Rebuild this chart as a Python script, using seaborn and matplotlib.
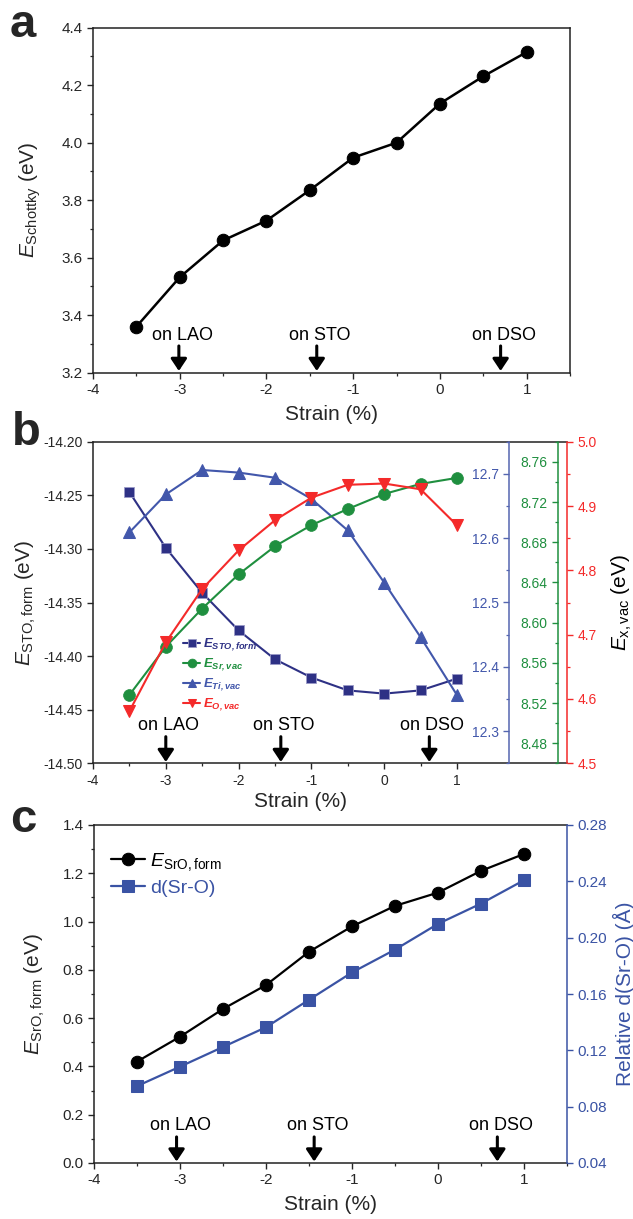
import matplotlib
matplotlib.use('Agg')
import matplotlib.pyplot as plt
import seaborn as sns
from matplotlib.ticker import MultipleLocator, FixedLocator, FormatStrFormatter

# ---------------- data ----------------
strain = [-3.5, -3.0, -2.5, -2.0, -1.5, -1.0, -0.5, 0.0, 0.5, 1.0]
e_schottky = [3.360, 3.532, 3.660, 3.729, 3.835, 3.948, 4.000, 4.136, 4.231, 4.315]
e_sto_form = [-14.247, -14.299, -14.341, -14.376, -14.403, -14.420, -14.432, -14.435, -14.432, -14.421]
e_sr_vac = [8.528, 8.576, 8.614, 8.648, 8.676, 8.697, 8.713, 8.728, 8.738, 8.744]
e_ti_vac = [12.609, 12.668, 12.706, 12.702, 12.694, 12.661, 12.612, 12.531, 12.446, 12.356]
e_o_vac = [4.581, 4.688, 4.771, 4.831, 4.878, 4.913, 4.933, 4.935, 4.926, 4.870]
e_sro_form = [0.420, 0.523, 0.638, 0.737, 0.875, 0.980, 1.065, 1.120, 1.210, 1.280]
d_sro = [0.0946, 0.1084, 0.1224, 0.1364, 0.1559, 0.1753, 0.1915, 0.2098, 0.2242, 0.2408]
substrates = ["on LAO", "on STO", "on DSO"]
sub_strain_a = [-3.01, -1.42, 0.70]
sub_strain_b = [-3.00, -1.42, 0.62]
sub_strain_c = [-3.04, -1.44, 0.69]
x_ticks = [-4, -3, -2, -1, 0, 1]

# ---------------- style ----------------
sns.set_style('ticks')
plt.rcParams['font.family'] = ['Liberation Sans', 'DejaVu Sans']
plt.rcParams.update({
    'mathtext.fontset': 'custom',
    'mathtext.rm': 'Liberation Sans',
    'mathtext.it': 'Liberation Sans:italic',
    'mathtext.bf': 'Liberation Sans:bold',
    'mathtext.sf': 'Liberation Sans:bold:italic',
    'axes.unicode_minus': False,
    'axes.linewidth': 1.1,
    'axes.edgecolor': '#222222',
    'xtick.direction': 'out',
    'ytick.direction': 'out',
    'xtick.major.size': 4, 'ytick.major.size': 4,
    'xtick.minor.size': 2.5, 'ytick.minor.size': 2.5,
    'xtick.major.width': 1.0, 'ytick.major.width': 1.0,
    'xtick.minor.width': 0.9, 'ytick.minor.width': 0.9,
})

navy = '#2e3185'
green = '#1f8f3f'
blue = '#4257ab'
red = '#f42a2a'
cblue = '#3a53a4'

W, H = 633, 1219
fig = plt.figure(figsize=(W / 100, H / 100), dpi=100)


def box(l, r, t, b):
    return [l / W, 1 - b / H, (r - l) / W, (b - t) / H]


def add_substrates(ax, xs, ytext, ytop, ybot, fs=13):
    for name, x in zip(substrates, xs):
        ax.text(x + 0.04, ytext, name, ha='center', va='center', fontsize=fs, color='black')
        ax.annotate('', xy=(x, ybot), xytext=(x, ytop),
                    arrowprops=dict(arrowstyle='-|>,head_length=0.6,head_width=0.4',
                                    color='black', lw=2.2, mutation_scale=12,
                                    shrinkA=0, shrinkB=0))


# ---------------- panel a ----------------
axA = fig.add_axes(box(93, 570, 27.7, 372.7))
sns.lineplot(x=strain, y=e_schottky, ax=axA, color='black', marker='o',
             markersize=9, linewidth=1.8, markeredgecolor='black')
axA.set_xlim(-4, 1.5)
axA.set_ylim(3.2, 4.4)
axA.xaxis.set_major_locator(FixedLocator(x_ticks))
axA.xaxis.set_minor_locator(MultipleLocator(0.5))
axA.yaxis.set_major_locator(MultipleLocator(0.2))
axA.yaxis.set_minor_locator(MultipleLocator(0.1))
axA.yaxis.set_major_formatter(FormatStrFormatter('%.1f'))
axA.xaxis.set_major_formatter(FormatStrFormatter('%d'))
axA.tick_params(which='both', top=False, right=False, labelsize=11)
axA.set_xlabel('Strain (%)', fontsize=15)
axA.xaxis.set_label_coords(0.5, -0.095)
axA.set_ylabel(r'$E_{\mathrm{Schottky}}$ (eV)', fontsize=15)
axA.yaxis.set_label_coords(-0.105, 0.5)
add_substrates(axA, sub_strain_a, 3.331, 3.293, 3.206)

# ---------------- panel b ----------------
axB = fig.add_axes(box(93, 567, 441.7, 763.3))
axT = axB.twinx()
axG = axB.twinx()
axR = axB.twinx()

sns.lineplot(x=strain, y=e_sto_form, ax=axB, color=navy, marker='s', markersize=7,
             linewidth=1.5, markeredgecolor='#9a9ac8', markeredgewidth=0.6)
sns.lineplot(x=strain, y=e_ti_vac, ax=axT, color=blue, marker='^', markersize=8.5,
             linewidth=1.5, markeredgecolor=blue)
sns.lineplot(x=strain, y=e_sr_vac, ax=axG, color=green, marker='o', markersize=8.5,
             linewidth=1.5, markeredgecolor=green, markeredgewidth=0.5)
sns.lineplot(x=strain, y=e_o_vac, ax=axR, color=red, marker='v', markersize=8.5,
             linewidth=1.5, markeredgecolor=red)

xr = -4 + (567 - 93) / 72.8
for a in (axB, axT, axG, axR):
    a.set_xlim(-4, xr)
    a.set_xlabel('')
    a.set_ylabel('')
axB.set_ylim(-14.50, -14.20)
axT.set_ylim(12.25, 12.75)
axG.set_ylim(8.46, 8.78)
axR.set_ylim(4.5, 5.0)

axB.xaxis.set_major_locator(FixedLocator(x_ticks))
axB.xaxis.set_minor_locator(FixedLocator([-3.5, -2.5, -1.5, -0.5, 0.5]))
axB.xaxis.set_major_formatter(FormatStrFormatter('%d'))
axB.yaxis.set_major_locator(MultipleLocator(0.05))
axB.yaxis.set_major_formatter(FormatStrFormatter('%.2f'))
axB.tick_params(which='both', top=False, right=False, labelsize=10)
axB.spines['right'].set_visible(False)

# blue axis (labels to the left of its spine)
for s in ('top', 'bottom', 'right'):
    axT.spines[s].set_visible(False)
axT.spines['left'].set_visible(True)
axT.spines['left'].set_position(('axes', (509 - 93) / 474))
axT.spines['left'].set_color('#5566b0')
axT.yaxis.set_ticks_position('left')
axT.yaxis.set_label_position('left')
axT.yaxis.set_major_locator(MultipleLocator(0.1))
axT.yaxis.set_minor_locator(MultipleLocator(0.05))
axT.yaxis.set_major_formatter(FormatStrFormatter('%.1f'))
axT.tick_params(axis='y', which='both', colors='#5566b0', labelcolor=blue, labelsize=10)

# green axis
for s in ('top', 'bottom', 'right'):
    axG.spines[s].set_visible(False)
axG.spines['left'].set_visible(True)
axG.spines['left'].set_position(('axes', (558 - 93) / 474))
axG.spines['left'].set_color(green)
axG.yaxis.set_ticks_position('left')
axG.yaxis.set_label_position('left')
axG.yaxis.set_major_locator(MultipleLocator(0.04))
axG.yaxis.set_minor_locator(MultipleLocator(0.02))
axG.yaxis.set_major_formatter(FormatStrFormatter('%.2f'))
axG.tick_params(axis='y', which='both', colors=green, labelcolor=green, labelsize=10)

# red axis
for s in ('top', 'bottom', 'left'):
    axR.spines[s].set_visible(False)
axR.spines['right'].set_visible(True)
axR.spines['right'].set_color(red)
axR.yaxis.set_major_locator(MultipleLocator(0.1))
axR.yaxis.set_minor_locator(MultipleLocator(0.05))
axR.yaxis.set_major_formatter(FormatStrFormatter('%.1f'))
axR.tick_params(axis='y', which='both', colors=red, labelcolor=red, labelsize=10)
axR.set_ylabel(r'$E_{\mathrm{x,vac}}$ (eV)', fontsize=15, color='black')
axR.yaxis.set_label_coords((610 - 93) / 474, 0.5)

axB.set_xlabel('Strain (%)', fontsize=15)
axB.xaxis.set_label_coords((301 - 93) / 474, -0.09)
axB.set_ylabel(r'$E_{\mathrm{STO,form}}$ (eV)', fontsize=15)
axB.yaxis.set_label_coords(-0.116, 0.5)

hb = [axB.lines[0], axG.lines[0], axT.lines[0], axR.lines[0]]
lb = [r'$\mathsf{E}_{\mathsf{STO,form}}$', r'$\mathsf{E}_{\mathsf{Sr,vac}}$',
      r'$\mathsf{E}_{\mathsf{Ti,vac}}$', r'$\mathsf{E}_{\mathsf{O,vac}}$']
axR.legend(hb, lb, loc='center left', bbox_to_anchor=(0.165, 0.276),
           bbox_transform=axB.transAxes, frameon=False, fontsize=9.5,
           handlelength=1.3, handletextpad=0.2, labelspacing=0.25,
           markerscale=0.75, labelcolor=[navy, green, blue, red])
add_substrates(axR, sub_strain_b, 4.5 + (763.3 - 725) / 643.2,
               4.5 + (763.3 - 736.7) / 643.2, 4.502)

# ---------------- panel c ----------------
axC = fig.add_axes(box(94, 567, 825, 1163))
axD = axC.twinx()
sns.lineplot(x=strain, y=e_sro_form, ax=axC, color='black', marker='o', markersize=9,
             linewidth=1.6, markeredgecolor='black')
sns.lineplot(x=strain, y=d_sro, ax=axD, color=cblue, marker='s', markersize=8,
             linewidth=1.6, markeredgecolor=cblue)
for a in (axC, axD):
    a.set_xlim(-4, 1.5)
    a.set_xlabel('')
    a.set_ylabel('')
axC.set_ylim(0, 1.4)
axD.set_ylim(0.04, 0.28)
axC.xaxis.set_major_locator(FixedLocator(x_ticks))
axC.xaxis.set_minor_locator(MultipleLocator(0.5))
axC.xaxis.set_major_formatter(FormatStrFormatter('%d'))
axC.yaxis.set_major_locator(MultipleLocator(0.2))
axC.yaxis.set_minor_locator(MultipleLocator(0.1))
axC.yaxis.set_major_formatter(FormatStrFormatter('%.1f'))
axC.tick_params(which='both', top=False, right=False, labelsize=11)
axC.spines['right'].set_visible(False)
for s in ('top', 'bottom', 'left'):
    axD.spines[s].set_visible(False)
axD.spines['right'].set_color(cblue)
axD.yaxis.set_major_locator(MultipleLocator(0.04))
axD.yaxis.set_major_formatter(FormatStrFormatter('%.2f'))
axD.tick_params(axis='y', colors=cblue, labelcolor=cblue, labelsize=11)
axD.set_ylabel('Relative d(Sr-O) (Å)', fontsize=15, color=cblue)
axD.yaxis.set_label_coords((613 - 94) / 473, 0.5)
axC.set_xlabel('Strain (%)', fontsize=15)
axC.xaxis.set_label_coords(0.5, -0.095)
axC.set_ylabel(r'$E_{\mathrm{SrO,form}}$ (eV)', fontsize=15)
axC.yaxis.set_label_coords(-0.1, 0.5)
axD.legend([axC.lines[0], axD.lines[0]],
           [r'$E_{\mathrm{SrO,form}}$', 'd(Sr-O)'],
           loc='upper left', bbox_to_anchor=(0.0, 0.975), bbox_transform=axC.transAxes,
           frameon=False, fontsize=14, handlelength=1.7, handletextpad=0.3,
           labelspacing=0.35, labelcolor=['black', cblue])
add_substrates(axC, sub_strain_c, 0.156, 0.108, 0.006)

# ---------------- panel letters ----------------
fig.text(10 / W, 1 - 37 / H, 'a', fontsize=34, fontweight='bold', va='baseline')
fig.text(12 / W, 1 - 445 / H, 'b', fontsize=34, fontweight='bold', va='baseline')
fig.text(10 / W, 1 - 832 / H, 'c', fontsize=34, fontweight='bold', va='baseline')

fig.savefig('out.png', dpi=100)
